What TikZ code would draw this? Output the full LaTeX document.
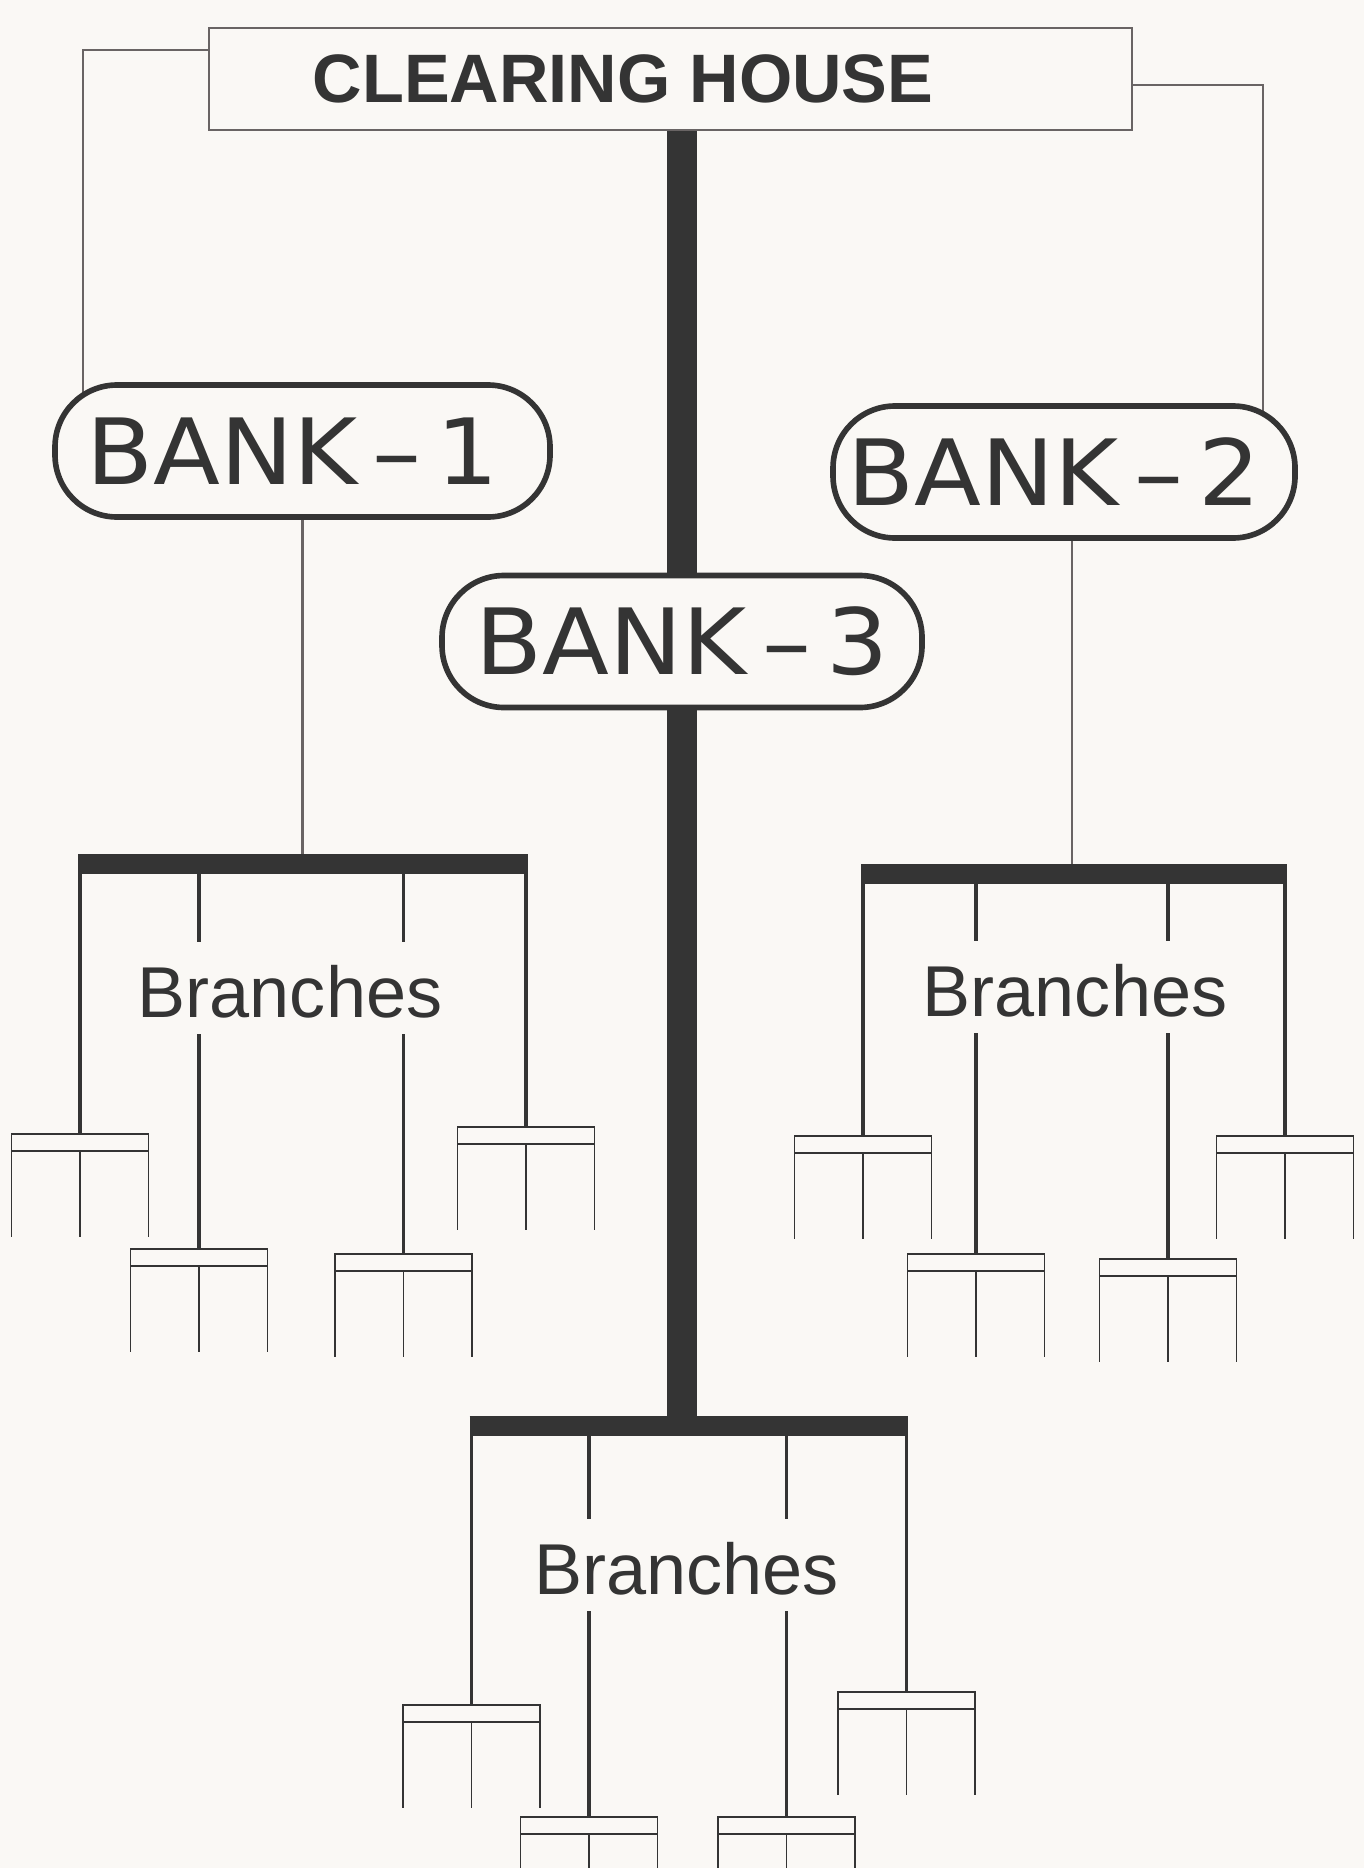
\documentclass[tikz,border=0pt]{standalone}
\usepackage{fontspec}
\setmainfont{Liberation Sans}
\newfontfamily\bankfont[FakeStretch=1.07]{DejaVu Sans}
\usepackage{tikz}
\usetikzlibrary{backgrounds}

\definecolor{paper}{RGB}{250,248,245}
\definecolor{ink}{RGB}{52,52,52}
\definecolor{wireink}{RGB}{105,100,100}

\begin{document}
\begin{tikzpicture}[
    chbox/.style={draw=wireink, line width=0.7pt, fill=paper, rectangle,
                  minimum width=9.23cm, minimum height=1.02cm, inner sep=0pt,
                  font=\fontsize{19.5}{22}\selectfont\bfseries, text=ink},
    bank/.style={draw=ink, line width=1.6pt, fill=paper, rectangle, rounded corners=0.62cm,
                 minimum height=1.32cm, inner sep=0pt,
                 font=\bankfont\fontsize{26}{30}\selectfont, text=ink},
    brlabel/.style={anchor=base, inner sep=0pt, text height=0.74cm, text depth=0.165cm,
                    font=\fontsize{20.5}{24}\selectfont, text=ink},
    trunk/.style={line width=8.5pt, draw=ink},
    bar/.style={line width=5.7pt, draw=ink, shorten <=-0.5pt, shorten >=-0.5pt},
    drop/.style={line width=1pt, draw=ink},
    wire/.style={line width=0.65pt, draw=wireink},
    forkline/.style={line width=0.55pt, draw=ink},
    branchfork/.pic={
        \draw[forkline] (-0.685,0) rectangle (0.685,-0.17);
        \draw[forkline] (-0.685,-0.17) -- ++(0,-0.86)
                        (0,-0.17) -- ++(0,-0.86)
                        (0.685,-0.17) -- ++(0,-0.86);
    },
]
\clip (0,0) rectangle (13.64,-18.68);

% === Clearing house and banks ===
\node[chbox] (ch) at (6.705,-0.79) {CLEARING HOUSE\hspace*{0.95cm}};

\node[bank, minimum width=4.95cm] (b1) at (3.025,-4.51) {BANK\,\textendash\,1\hspace*{0.2cm}};
\node[bank, minimum width=4.62cm] (b2) at (10.64,-4.72) {BANK\,\textendash\,2\hspace*{0.2cm}};
\node[bank, minimum width=4.80cm] (b3) at (6.82,-6.415) {BANK\,\textendash\,3};

\coordinate (chl) at (0.83,-0.50);
\coordinate (chr) at (12.63,-0.85);

\begin{scope}[on background layer]
\fill[paper] (0,0) rectangle (13.64,-18.68);
\draw[wire] (ch.west |- chl) -- (chl) -- (chl |- b1.center);
\draw[wire] (ch.east |- chr) -- (chr) -- (chr |- b2.center);
\end{scope}

\draw[trunk] (b3.north |- ch.south) -- (b3.north);

% === Bank-1 branches ===
\coordinate (bar1) at (3.03,-8.64);
\node[brlabel] (br1) at (2.90,-10.17) {Branches};
\coordinate (f11) at (0.80,-11.34);
\coordinate (f12) at (1.99,-12.49);
\coordinate (f13) at (4.035,-12.54);
\coordinate (f14) at (5.26,-11.27);

\draw[wire] (b1.south) -- (b1.south |- bar1);
\draw[bar] (f11 |- bar1) -- (f14 |- bar1);
\draw[drop] (f11 |- bar1) -- (f11);
\draw[drop] (f12 |- bar1) -- (f12 |- br1.north) (f12 |- br1.south) -- (f12);
\draw[drop] (f13 |- bar1) -- (f13 |- br1.north) (f13 |- br1.south) -- (f13);
\draw[drop] (f14 |- bar1) -- (f14);
\pic at (f11) {branchfork};
\pic at (f12) {branchfork};
\pic at (f13) {branchfork};
\pic at (f14) {branchfork};

% === Bank-2 branches ===
\coordinate (bar2) at (10.72,-8.74);
\node[brlabel] (br2) at (10.75,-10.16) {Branches};
\coordinate (f21) at (8.63,-11.36);
\coordinate (f22) at (9.76,-12.54);
\coordinate (f23) at (11.68,-12.59);
\coordinate (f24) at (12.85,-11.36);

\draw[wire] (bar2 |- b2.south) -- (bar2);
\draw[bar] (f21 |- bar2) -- (f24 |- bar2);
\draw[drop] (f21 |- bar2) -- (f21);
\draw[drop] (f22 |- bar2) -- (f22 |- br2.north) (f22 |- br2.south) -- (f22);
\draw[drop] (f23 |- bar2) -- (f23 |- br2.north) (f23 |- br2.south) -- (f23);
\draw[drop] (f24 |- bar2) -- (f24);
\pic at (f21) {branchfork};
\pic at (f22) {branchfork};
\pic at (f23) {branchfork};
\pic at (f24) {branchfork};

% === Bank-3 branches ===
\coordinate (bar3) at (6.885,-14.26);
\node[brlabel] (br3) at (6.865,-15.94) {Branches};
\coordinate (f31) at (4.715,-17.05);
\coordinate (f32) at (5.89,-18.17);
\coordinate (f33) at (7.865,-18.17);
\coordinate (f34) at (9.065,-16.92);

\draw[trunk] (b3.south) -- (b3.south |- bar3);
\draw[bar] (f31 |- bar3) -- (f34 |- bar3);
\draw[drop] (f31 |- bar3) -- (f31);
\draw[drop] (f32 |- bar3) -- (f32 |- br3.north) (f32 |- br3.south) -- (f32);
\draw[drop] (f33 |- bar3) -- (f33 |- br3.north) (f33 |- br3.south) -- (f33);
\draw[drop] (f34 |- bar3) -- (f34);
\pic at (f31) {branchfork};
\pic at (f32) {branchfork};
\pic at (f33) {branchfork};
\pic at (f34) {branchfork};

\end{tikzpicture}
\end{document}
